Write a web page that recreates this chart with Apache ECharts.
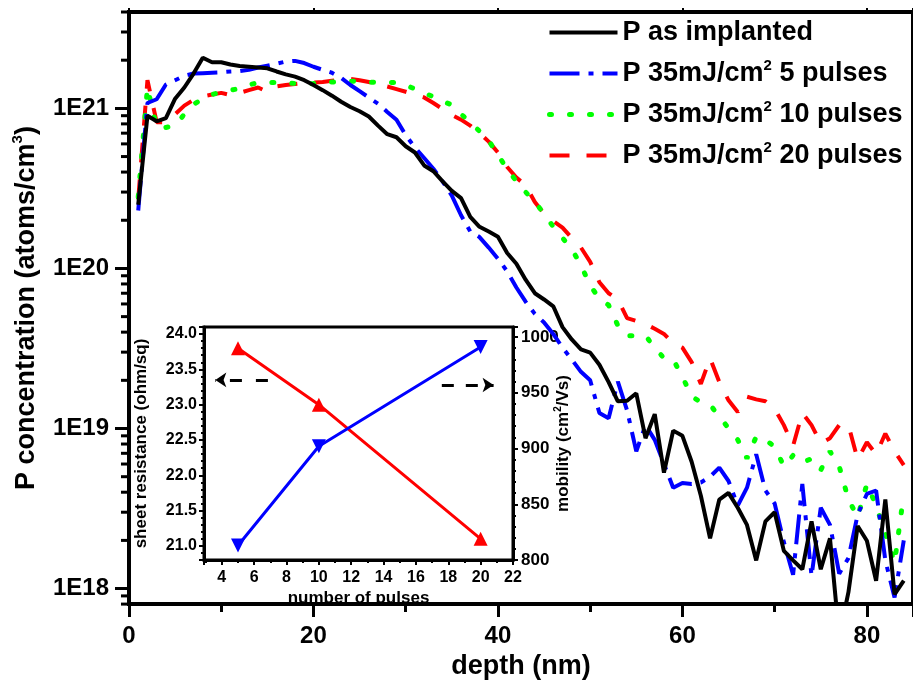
<!DOCTYPE html>
<html>
<head>
<meta charset="utf-8">
<script src="https://cdn.jsdelivr.net/npm/echarts@6/dist/echarts.min.js"></script>
<style>
html,body{margin:0;padding:0;background:#fff;}
#chart{width:913px;height:685px;}
</style>
</head>
<body>
<div id="chart"></div>
<script>
// ---- main chart data (depth in nm, P concentration in atoms/cm3) ----
const depth = [1,2,3,4,5,6,7,8,9,10,11,12,13,14,15,16,17,18,19,20,21,22,23,24,25,26,27,28,29,30,31,32,33,34,35,36,37,38,39,40,41,42,43,44,45,46,47,48,49,50,51,52,53,54,55,56,57,58,59,60,61,62,63,64,65,66,67,68,69,70,71,72,73,74,75,76,77,78,79,80,81,82,83,84];

const asImplanted = [2.5e20,9.0e20,8.3e20,8.7e20,1.15e21,1.35e21,1.65e21,2.07e21,1.94e21,1.94e21,1.88e21,1.84e21,1.82e21,1.8e21,1.78e21,1.7e21,1.63e21,1.58e21,1.5e21,1.4e21,1.3e21,1.2e21,1.1e21,1.02e21,9.6e20,8.9e20,7.8e20,6.9e20,6.6e20,5.8e20,5.3e20,4.4e20,4.05e20,3.5e20,3.05e20,2.75e20,2.1e20,1.82e20,1.7e20,1.58e20,1.25e20,1.07e20,8.5e19,7.0e19,6.4e19,5.8e19,4.3e19,3.6e19,3.12e19,2.98e19,2.5e19,1.95e19,1.48e19,1.49e19,1.66e19,8.7e18,1.23e19,5.3e18,9.7e18,9.0e18,6.2e18,3.8e18,2.06e18,3.6e18,3.96e18,3.2e18,2.5e18,1.5e18,2.63e18,3.0e18,1.72e18,1.5e18,1.32e18,2.63e18,1.32e18,2.06e18,5.0e17,9.5e17,2.46e18,1.99e18,1.12e18,3.6e18,9.2e17,1.12e18];

const pulses5 = [2.3e20,1.08e21,1.14e21,1.41e21,1.5e21,1.6e21,1.65e21,1.66e21,1.67e21,1.68e21,1.7e21,1.71e21,1.74e21,1.8e21,1.85e21,1.9e21,1.96e21,1.98e21,1.92e21,1.82e21,1.74e21,1.67e21,1.55e21,1.4e21,1.28e21,1.17e21,1.07e21,9.5e20,8.5e20,6.8e20,5.7e20,4.9e20,4.2e20,3.5e20,2.85e20,2.15e20,1.7e20,1.57e20,1.35e20,1.15e20,9.6e19,7.6e19,6.2e19,5.2e19,4.6e19,3.9e19,3.2e19,2.7e19,2.26e19,2.0e19,1.25e19,1.16e19,1.96e19,1.3e19,7.2e18,1.05e19,8.5e18,6.0e18,4.27e18,4.57e18,4.5e18,4.6e18,5.0e18,5.7e18,4.7e18,3.3e18,4.27e18,6.9e18,4.1e18,3.4e18,1.95e18,1.22e18,4.5e18,1.2e18,3.2e18,2.5e18,1.24e18,1.55e18,2.9e18,3.9e18,4.1e18,1.5e18,8.8e17,2.0e18];

const pulses10 = [2.8e20,1.35e21,7.6e20,7.6e20,7.8e20,9.2e20,1.06e21,1.15e21,1.22e21,1.27e21,1.3e21,1.33e21,1.4e21,1.45e21,1.45e21,1.45e21,1.45e21,1.43e21,1.41e21,1.43e21,1.46e21,1.46e21,1.47e21,1.48e21,1.47e21,1.46e21,1.45e21,1.45e21,1.45e21,1.4e21,1.32e21,1.25e21,1.18e21,1.11e21,1.05e21,9.2e20,8.2e20,7.2e20,6.3e20,5.1e20,4.2e20,3.5e20,3.0e20,2.6e20,2.2e20,1.82e20,1.55e20,1.32e20,1.05e20,7.8e19,6.5e19,5.9e19,4.4e19,3.8e19,3.8e19,3.8e19,3.2e19,2.75e19,2.7e19,2.1e19,1.6e19,1.45e19,1.4e19,1.2e19,1.0e19,8.5e18,6.5e18,8.9e18,8.5e18,7.7e18,5.8e18,6.8e18,6.1e18,6.5e18,5.5e18,7.2e18,5.8e18,3.6e18,2.8e18,4.5e18,3.3e18,2.2e18,1.45e18,3.9e18];

const pulses20 = [2.7e20,1.5e21,8.2e20,8.2e20,9.2e20,1.04e21,1.13e21,1.19e21,1.22e21,1.25e21,1.21e21,1.25e21,1.3e21,1.35e21,1.27e21,1.37e21,1.4e21,1.42e21,1.44e21,1.45e21,1.46e21,1.49e21,1.51e21,1.53e21,1.5e21,1.46e21,1.42e21,1.37e21,1.32e21,1.27e21,1.22e21,1.17e21,1.08e21,9.9e20,9.1e20,8.5e20,7.8e20,7.0e20,6.2e20,5.3e20,4.3e20,3.7e20,3.3e20,2.6e20,2.2e20,1.98e20,1.8e20,1.55e20,1.35e20,1.1e20,8.2e19,7.0e19,6.4e19,4.9e19,4.7e19,4.5e19,4.2e19,3.9e19,3.4e19,3.2e19,2.6e19,1.9e19,2.75e19,1.95e19,1.5e19,1.27e19,1.58e19,1.52e19,1.48e19,1.33e19,1.05e19,7.8e18,1.25e19,1.05e19,8.1e18,8.7e18,1.05e19,1.05e19,6.4e18,8.2e18,6.9e18,9.3e18,7.2e18,5.9e18];

const seriesNames = ['P as implanted','P 35mJ/cm2 5 pulses','P 35mJ/cm2 10 pulses','P 35mJ/cm2 20 pulses'];

// ---- inset data ----
const pulseCounts = [5, 10, 20];
const sheetResistance = [23.8, 23.0, 21.1];
const mobility = [813, 902, 991];

const FONT = '"Liberation Sans", Arial, sans-serif';

function zip(xs, ys){ return xs.map((x,i)=>[x, ys[i]]); }

// log minor tick positions (2..9 x 10^n) inside the axis range
const yMin = 8e17, yMax = 4e21;
const minorLogTicks = [];
for (let n = 17; n <= 21; n++) {
  for (let k = 2; k <= 9; k++) {
    const v = k * Math.pow(10, n);
    if (v >= yMin && v <= yMax) minorLogTicks.push([0, v]);
  }
}

const styles = [
  {color: '#000000', width: 4, type: 'solid'},
  {color: '#0000ff', width: 4, type: [30, 9, 5, 9]},
  {color: '#00ff00', width: 5, type: [2, 18], cap: 'round'},
  {color: '#ff0000', width: 4, type: [20, 17]}
];

const chart = echarts.init(document.getElementById('chart'), null, {renderer:'canvas'});

const mainLabel = {fontFamily: FONT, fontWeight: 'bold', fontSize: 24, color: '#000'};
const insetLabel = {fontFamily: FONT, fontWeight: 'bold', fontSize: 16, color: '#000'};

const option = {
  animation: false,
  backgroundColor: '#fff',
  grid: [
    {left: 129, right: -4, top: 12, bottom: 78, show: true, borderColor: '#000', borderWidth: 4, containLabel: false},
    {left: 204, right: 400, top: 327, bottom: 125, show: true, borderColor: '#000', borderWidth: 3, backgroundColor: '#fff', containLabel: false}
  ],
  legend: {
    data: seriesNames.map((n, i) => ({name: n, lineStyle: Object.assign({}, styles[i])})),
    orient: 'vertical',
    left: 547,
    top: 17,
    padding: 0,
    itemWidth: 68,
    itemHeight: 14,
    itemGap: 10,
    selectedMode: false,
    itemStyle: {color: 'transparent', borderColor: 'transparent', borderWidth: 0, opacity: 0},
    formatter: name => name.replace('cm2', 'cm{sup|2}'),
    textStyle: {
      fontFamily: FONT, fontWeight: 'bold', fontSize: 27, color: '#000', lineHeight: 31,
      rich: {sup: {fontFamily: FONT, fontWeight: 'bold', fontSize: 15, color: '#000', verticalAlign: 'top', lineHeight: 31}}
    }
  },
  xAxis: [
    {
      type: 'value', gridIndex: 0, min: 0, max: 85, interval: 20, position: 'bottom',
      name: 'depth (nm)', nameLocation: 'middle', nameGap: 46,
      nameTextStyle: {fontFamily: FONT, fontWeight: 'bold', fontSize: 27, color: '#000'},
      axisLine: {show: true, onZero: false, lineStyle: {color: '#000', width: 4}},
      axisTick: {show: true, inside: false, length: 13, lineStyle: {color: '#000', width: 3}},
      minorTick: {show: true, splitNumber: 2, length: 8, lineStyle: {color: '#000', width: 3}},
      axisLabel: Object.assign({margin: 20, showMaxLabel: false}, mainLabel),
      splitLine: {show: false}
    },
    {
      type: 'value', gridIndex: 0, min: 0, max: 85, interval: 20, position: 'top',
      axisLine: {show: true, onZero: false, lineStyle: {color: '#000', width: 4}},
      axisTick: {show: true, inside: false, length: 4, lineStyle: {color: '#000', width: 2}},
      axisLabel: {show: false},
      splitLine: {show: false}
    },
    {
      type: 'value', gridIndex: 1, min: 2.9, max: 22, splitNumber: 10, position: 'bottom',
      name: 'number of pulses', nameLocation: 'middle', nameGap: 30, nameMoveOverlap: false,
      nameTextStyle: {fontFamily: FONT, fontWeight: 'bold', fontSize: 17, color: '#000'},
      axisLine: {show: true, onZero: false, lineStyle: {color: '#000', width: 3}},
      axisTick: {show: true, inside: false, length: 5, lineStyle: {color: '#000', width: 2}},
      minorTick: {show: true, splitNumber: 2, length: 3, lineStyle: {color: '#000', width: 2}},
      axisLabel: Object.assign({margin: 10, showMinLabel: false}, insetLabel),
      splitLine: {show: false}
    }
  ],
  yAxis: [
    {
      type: 'log', logBase: 10, gridIndex: 0, min: yMin, max: yMax,
      name: 'P concentration (atoms/cm{sup|3})', nameLocation: 'middle', nameGap: 80, nameRotate: 90,
      nameTextStyle: {
        fontFamily: FONT, fontWeight: 'bold', fontSize: 27, color: '#000', lineHeight: 32,
        rich: {sup: {fontFamily: FONT, fontWeight: 'bold', fontSize: 15, color: '#000', verticalAlign: 'top', lineHeight: 32}}
      },
      axisLine: {show: true, onZero: false, lineStyle: {color: '#000', width: 4}},
      axisTick: {show: true, inside: false, length: 14, lineStyle: {color: '#000', width: 3}},
      axisLabel: Object.assign({margin: 20, showMinLabel: false, showMaxLabel: false,
        formatter: v => '1E' + Math.round(Math.log10(v))}, mainLabel),
      splitLine: {show: false}
    },
    {
      type: 'value', gridIndex: 1, min: 20.8, max: 24.1, splitNumber: 7, position: 'left',
      name: 'sheet resistance (ohm/sq)', nameLocation: 'middle', nameGap: 54, nameRotate: 90,
      nameTextStyle: {fontFamily: FONT, fontWeight: 'bold', fontSize: 17, color: '#000'},
      axisLine: {show: true, onZero: false, lineStyle: {color: '#000', width: 3}},
      axisTick: {show: true, inside: false, length: 5, lineStyle: {color: '#000', width: 2}},
      minorTick: {show: true, splitNumber: 5, length: 3, lineStyle: {color: '#000', width: 2}},
      axisLabel: Object.assign({margin: 7, showMinLabel: false, showMaxLabel: false,
        formatter: v => v.toFixed(1)}, insetLabel),
      splitLine: {show: false}
    },
    {
      type: 'value', gridIndex: 1, min: 800, max: 1009, interval: 50, position: 'right',
      name: 'mobility (cm{sup|2}/Vs)', nameLocation: 'middle', nameGap: 40, nameRotate: 90, nameMoveOverlap: false,
      nameTextStyle: {
        fontFamily: FONT, fontWeight: 'bold', fontSize: 17, color: '#000', lineHeight: 20,
        rich: {sup: {fontFamily: FONT, fontWeight: 'bold', fontSize: 10, color: '#000', verticalAlign: 'top', lineHeight: 20}}
      },
      axisLine: {show: true, onZero: false, lineStyle: {color: '#000', width: 3}},
      axisTick: {show: true, inside: false, length: 5, lineStyle: {color: '#000', width: 2}},
      minorTick: {show: true, splitNumber: 5, length: 3, lineStyle: {color: '#000', width: 2}},
      axisLabel: Object.assign({margin: 8, showMaxLabel: false, formatter: v => String(v)}, insetLabel, {fontSize: 17}),
      splitLine: {show: false}
    }
  ],
  series: [
    {
      name: seriesNames[0], type: 'line', xAxisIndex: 0, yAxisIndex: 0, data: zip(depth, asImplanted),
      symbol: 'none', color: styles[0].color, lineStyle: styles[0], z: 6
    },
    {
      name: seriesNames[1], type: 'line', xAxisIndex: 0, yAxisIndex: 0, data: zip(depth, pulses5),
      symbol: 'none', color: styles[1].color, lineStyle: styles[1], z: 5
    },
    {
      name: seriesNames[2], type: 'line', xAxisIndex: 0, yAxisIndex: 0, data: zip(depth, pulses10),
      symbol: 'none', color: styles[2].color, lineStyle: styles[2], z: 4
    },
    {
      name: seriesNames[3], type: 'line', xAxisIndex: 0, yAxisIndex: 0, data: zip(depth, pulses20),
      symbol: 'none', color: styles[3].color, lineStyle: styles[3], z: 3
    },
    {
      name: 'minorLogTicks', type: 'custom', xAxisIndex: 0, yAxisIndex: 0, data: minorLogTicks,
      silent: true, clip: false, z: 10,
      renderItem: (params, api) => {
        const p = api.coord([0, api.value(1)]);
        return {type: 'line', shape: {x1: p[0] - 8, y1: p[1], x2: p[0] - 1, y2: p[1]},
                style: {stroke: '#000', lineWidth: 3}};
      }
    },
    {
      name: 'sheet resistance', type: 'line', xAxisIndex: 2, yAxisIndex: 1, data: zip(pulseCounts, sheetResistance),
      color: '#ff0000', symbol: 'triangle', symbolSize: 14, lineStyle: {color: '#ff0000', width: 3},
      itemStyle: {color: '#ff0000'}, z: 8,
      markLine: {
        silent: true, symbol: ['none', 'arrow'], symbolSize: 11, label: {show: false},
        lineStyle: {color: '#000', width: 3, type: [12, 14]},
        data: [[{coord: [6.85, 23.35]}, {coord: [3.6, 23.35]}]]
      }
    },
    {
      name: 'mobility', type: 'line', xAxisIndex: 2, yAxisIndex: 2, data: zip(pulseCounts, mobility),
      color: '#0000ff', symbol: 'triangle', symbolRotate: 180, symbolSize: 14, lineStyle: {color: '#0000ff', width: 3},
      itemStyle: {color: '#0000ff'}, z: 8,
      markLine: {
        silent: true, symbol: ['none', 'arrow'], symbolSize: 11, label: {show: false},
        lineStyle: {color: '#000', width: 3, type: [12, 12]},
        data: [[{coord: [17.6, 957]}, {coord: [20.8, 957]}]]
      }
    }
  ]
};
chart.setOption(option);
</script>
</body>
</html>
